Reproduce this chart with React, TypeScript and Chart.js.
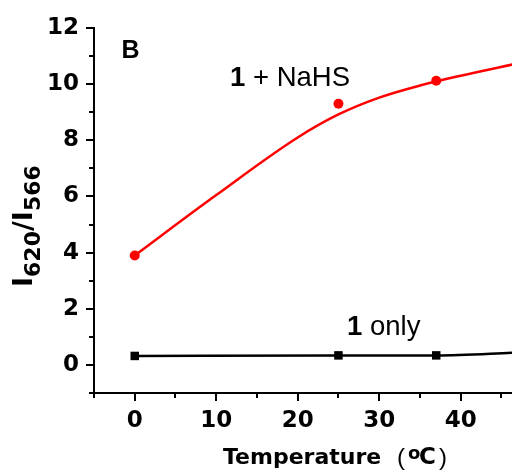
import React, { useEffect, useRef } from "react";
import { Chart, registerables } from "chart.js";

Chart.register(...registerables);

// Measured temperatures (°C)
const temps = [0, 25, 37];
// I620/I566 for "1 + NaHS" (red circles)
const nahsValues = [3.9, 9.3, 10.12];
// I620/I566 for "1 only" (black squares)
const onlyValues = [0.32, 0.34, 0.34];
// Fitted curve for "1 + NaHS"
const nahsFitX = [0, 10, 20, 25, 30, 35, 40, 47];
const nahsFitY = [3.9, 6.05, 8.1, 8.92, 9.52, 9.95, 10.3, 10.74];
// Connecting line for "1 only"
const onlyFitX = [0, 25, 37, 47];
const onlyFitY = [0.32, 0.34, 0.34, 0.44];
// Axis ticks
const xTicks = [0, 10, 20, 30, 40];
const xMinorTicks = [-5, 5, 15, 25, 35, 45];
const yTicks = [0, 2, 4, 6, 8, 10, 12];
const yMinorTicks = [-1, 1, 3, 5, 7, 9, 11];

const BOLD = "'DejaVu Sans', sans-serif";
const ARIAL = "'Liberation Sans', Arial, sans-serif";

const textPlugin = {
  id: "customText",
  afterDraw(chart: any) {
    const ctx = chart.ctx as CanvasRenderingContext2D;
    const xs = chart.scales.x;
    const ys = chart.scales.y;
    const area = chart.chartArea;
    ctx.save();
    // minor ticks
    ctx.strokeStyle = "#000";
    ctx.lineWidth = 2;
    ctx.beginPath();
    for (const v of yMinorTicks) {
      const py = Math.round(ys.getPixelForValue(v));
      ctx.moveTo(area.left, py);
      ctx.lineTo(area.left - 5, py);
    }
    for (const v of xMinorTicks) {
      const px = Math.round(xs.getPixelForValue(v));
      ctx.moveTo(px, area.bottom);
      ctx.lineTo(px, area.bottom + 5);
    }
    ctx.stroke();

    ctx.fillStyle = "#000";
    ctx.textBaseline = "alphabetic";
    ctx.textAlign = "left";

    // Panel label
    ctx.font = `bold 25px ${ARIAL}`;
    ctx.fillText("B", 121.5, 57.5);

    // Series annotations
    const drawAnno = (x: number, y: number, bold: string, rest: string) => {
      ctx.font = `bold 27.5px ${ARIAL}`;
      ctx.fillText(bold, x, y);
      const w = ctx.measureText(bold).width;
      ctx.font = `27.5px ${ARIAL}`;
      ctx.fillText(rest, x + w, y);
    };
    drawAnno(230, 86, "1", " + NaHS");
    drawAnno(347, 335, "1", " only");

    // X axis title
    ctx.font = `bold 22px ${BOLD}`;
    ctx.fillText("Temperature", 223, 464);
    ctx.font = `24px ${ARIAL}`;
    ctx.fillText("(", 397, 465);
    ctx.font = `bold 18px ${BOLD}`;
    ctx.fillText("o", 408, 459);
    ctx.font = `bold 23px ${BOLD}`;
    ctx.fillText("C", 419, 464);
    ctx.font = `24px ${ARIAL}`;
    ctx.fillText(")", 439, 465);

    // Y axis title (rotated) I620/I566
    ctx.translate(31.5, 287);
    ctx.rotate(-Math.PI / 2);
    let cx = 0;
    const parts: [string, boolean][] = [
      ["I", false],
      ["620", true],
      ["/I", false],
      ["566", true],
    ];
    for (const [t, sub] of parts) {
      ctx.font = sub ? `bold 22px ${BOLD}` : `bold 27px ${BOLD}`;
      ctx.fillText(t, cx, sub ? 8 : 0);
      cx += ctx.measureText(t).width;
    }
    ctx.restore();
  },
};

export default function App() {
  const ref = useRef<HTMLCanvasElement>(null);
  useEffect(() => {
    if (!ref.current) return;
    const chart = new Chart(ref.current, {
      type: "line",
      data: {
        datasets: [
          {
            label: "1 + NaHS fit",
            data: nahsFitX.map((x, i) => ({ x, y: nahsFitY[i] })),
            borderColor: "#ff0000",
            borderWidth: 2.5,
            pointRadius: 0,
            cubicInterpolationMode: "monotone",
            fill: false,
          },
          {
            label: "1 only line",
            data: onlyFitX.map((x, i) => ({ x, y: onlyFitY[i] })),
            borderColor: "#000",
            borderWidth: 2.5,
            pointRadius: 0,
            cubicInterpolationMode: "monotone",
            fill: false,
          },
          {
            label: "1 + NaHS",
            data: temps.map((x, i) => ({ x, y: nahsValues[i] })),
            showLine: false,
            pointStyle: "circle",
            pointRadius: 5,
            backgroundColor: "#ff0000",
            borderColor: "#ff0000",
            borderWidth: 0,
          },
          {
            label: "1 only",
            data: temps.map((x, i) => ({ x, y: onlyValues[i] })),
            showLine: false,
            pointStyle: "rect",
            pointRadius: 6,
            backgroundColor: "#000",
            borderColor: "#000",
            borderWidth: 0,
          },
        ],
      },
      options: {
        responsive: false,
        animation: false,
        devicePixelRatio: 1,
        layout: { padding: { top: 28, right: 0, left: 0, bottom: 0 } },
        plugins: {
          legend: { display: false },
          tooltip: { enabled: false },
        },
        scales: {
          x: {
            type: "linear",
            min: -5,
            max: 46.3,
            afterBuildTicks: (s: any) => {
              s.ticks = xTicks.map((v) => ({ value: v }));
            },
            afterFit: (s: any) => {
              s.height = 80;
            },
            ticks: {
              autoSkip: false,
              maxRotation: 0,
              padding: 6,
              color: "#000",
              font: { family: BOLD, size: 23, weight: "bold" },
            },
            grid: {
              display: true,
              drawOnChartArea: false,
              drawTicks: true,
              tickLength: 8,
              color: "#000",
              lineWidth: 2,
            },
            border: { display: true, color: "#000", width: 2 },
          },
          y: {
            type: "linear",
            min: -1,
            max: 12,
            afterBuildTicks: (s: any) => {
              s.ticks = yTicks.map((v) => ({ value: v }));
            },
            afterFit: (s: any) => {
              s.width = 94;
            },
            ticks: {
              autoSkip: false,
              padding: 7,
              color: "#000",
              font: { family: BOLD, size: 23, weight: "bold" },
            },
            grid: {
              display: true,
              drawOnChartArea: false,
              drawTicks: true,
              tickLength: 8,
              color: "#000",
              lineWidth: 2,
            },
            border: { display: true, color: "#000", width: 2 },
          },
        },
      },
      plugins: [textPlugin],
    } as any);
    return () => chart.destroy();
  }, []);
  return (
    <div style={{ position: "fixed", left: 0, top: 0, width: 512, height: 473, overflow: "hidden", background: "#fff" }}>
      <canvas ref={ref} width={518} height={473} style={{ display: "block" }} />
    </div>
  );
}
